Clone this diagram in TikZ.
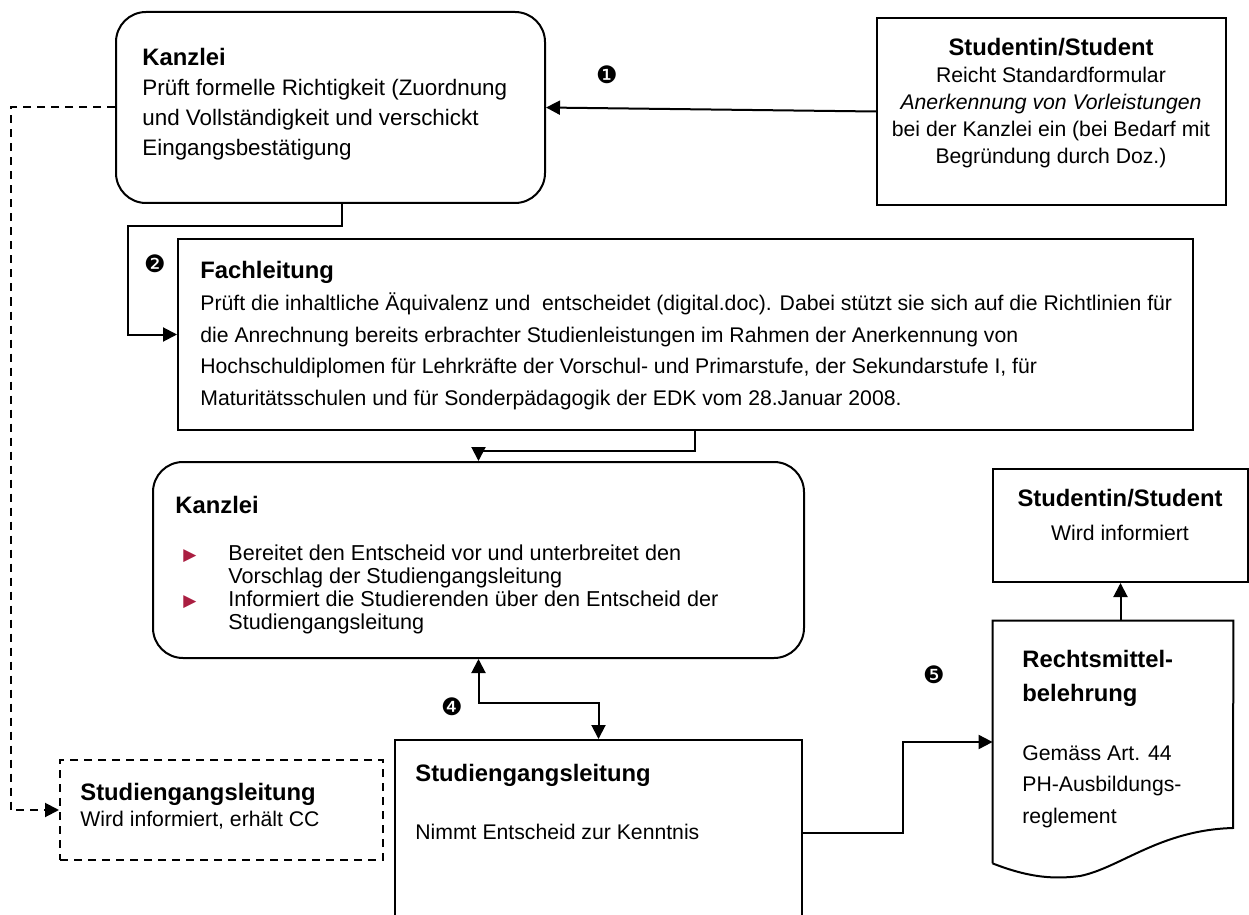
\documentclass[tikz,border=0pt]{standalone}
\usepackage{fontspec}
\setmainfont{Liberation Sans}
\newfontfamily\dejavu{DejaVu Sans}
\usetikzlibrary{fit,arrows.meta}
\definecolor{bulletred}{RGB}{170,30,65}

\newcommand{\titlefont}{\fontsize{11.9}{14}\selectfont\bfseries}
\newcommand{\bodyfont}{\fontsize{10.6}{13.75}\selectfont}
\newcommand{\numero}[1]{{\dejavu\fontsize{12}{12}\selectfont #1}}
\newcommand{\bul}{\makebox[22.5pt][l]{\textcolor{bulletred}{\dejavu\fontsize{8.5}{8}\selectfont ▶}}}

\begin{document}
\begin{tikzpicture}[x=0.5pt,y=-0.5pt,
  box/.style={draw,line width=1pt,inner sep=0pt},
  rbox/.style={box,rounded corners=15pt},
  dbox/.style={box,dash pattern=on 4pt off 3pt},
  txt/.style={anchor=north west,align=left,inner sep=0pt,font=\bodyfont},
  ctxt/.style={anchor=north,align=center,inner sep=0pt,font=\bodyfont},
  tip/.tip={Triangle[length=7pt,width=7pt]},
  conn/.style={line width=1pt,-tip}]
  \path[use as bounding box] (0,0) rectangle (1249,915);

  \node[rbox,fit={(116,12) (545,203)}] (kanzlei1) {};
  \node[txt,font=\fontsize{11.2}{15}\selectfont] (kanzlei1text) at (142,48) {{\titlefont Kanzlei}\\Prüft formelle Richtigkeit (Zuordnung\\und Vollständigkeit und verschickt\\Eingangsbestätigung};

  \node[box,fit={(877,18) (1226,205)}] (student1) {};
  \node[ctxt,font=\fontsize{10.6}{13.5}\selectfont] (student1text) at (1051,38) {{\titlefont Studentin/Student}\\Reicht Standardformular\\\textit{Anerkennung von Vorleistungen}\\bei der Kanzlei ein (bei Bedarf mit\\Begründung durch Doz.)};

  \node[box,fit={(178,239) (1193,430)}] (fach) {};
  \node[txt,font=\fontsize{10.6}{15.85}\selectfont] (fachtext) at (200,261) {{\titlefont Fachleitung}\\Prüft die inhaltliche Äquivalenz und~ entscheidet (digital.doc). Dabei stützt sie sich auf die Richtlinien für\\die Anrechnung bereits erbrachter Studienleistungen im Rahmen der Anerkennung von\\Hochschuldiplomen für Lehrkräfte der Vorschul- und Primarstufe, der Sekundarstufe I, für\\Maturitätsschulen und für Sonderpädagogik der EDK vom 28.Januar 2008.};

  \node[rbox,fit={(153,462) (804,658)}] (kanzlei2) {};
  \node[txt,font=\titlefont] (kanzlei2title) at (175,496) {Kanzlei};
  \node[txt,font=\fontsize{10.8}{11.5}\selectfont] (kanzlei2list) at (183,544) {\bul Bereitet den Entscheid vor und unterbreitet den\\\hspace*{22.5pt}Vorschlag der Studiengangsleitung\\\bul Informiert die Studierenden über den Entscheid der\\\hspace*{22.5pt}Studiengangsleitung};

  \node[dbox,fit={(60,760) (383,860)}] (sglcc) {};
  \node[txt,font=\fontsize{10.6}{13}\selectfont] (sglcctext) at (80,783) {{\titlefont Studiengangsleitung}\\Wird informiert, erhält CC};

  \node[box,fit={(395,740) (802,926)}] (sgl) {};
  \node[txt,font=\titlefont] (sgltitle) at (415,764) {Studiengangsleitung};
  \node[txt] (sgltext) at (415,824) {Nimmt Entscheid zur Kenntnis};

  \node[box,fit={(993,469) (1248,582)}] (student2) {};
  \node[ctxt,font=\fontsize{10.6}{17}\selectfont] (student2text) at (1120,489) {{\titlefont Studentin/Student}\\Wird informiert};

  \node[inner sep=0pt,fit={(993,621) (1233,863)}] (recht) {};
  \draw[line width=1pt] (recht.south west) -- (recht.north west) -- (recht.north east) -- (1233,828)
    .. controls (1160,830) and (1120,868) .. (1080,876) .. controls (1050,880) and (1025,876) .. (recht.south west);
  \node[txt,font=\fontsize{11.9}{17}\selectfont\bfseries] (rechttitle) at (1022,650) {Rechtsmittel-\\belehrung};
  \node[txt,font=\fontsize{10.6}{15.75}\selectfont] (rechttext) at (1022,745) {Gemäss Art. 44\\PH-Ausbildungs-\\reglement};

  \node (n1) at (607,75) {\numero{❶}};
  \node (n2) at (155,264) {\numero{❷}};
  \node (n4) at (452,707) {\numero{❹}};
  \node (n5) at (934,675) {\numero{❺}};

  \coordinate (bend1) at (128,226);
  \draw[conn] (student1.west) -- (kanzlei1.east);
  \draw[conn,dash pattern=on 4pt off 3pt] (kanzlei1.west) -- ++(-104,0) |- (sglcc.west);
  \draw[conn] ([xshift=5.75pt]kanzlei1.south) |- (bend1) |- (fach.west);
  \draw[conn] ([xshift=4.75pt]fach.south) -- ++(0,20) -| (kanzlei2.north);
  \draw[conn,tip-tip] (kanzlei2.south) -- ++(0,44) -| (sgl.north);
  \draw[conn] (sgl.east) -- ++(100,0) |- (recht.west);
  \draw[conn] (recht.north -| student2.south) -- (student2.south);
\end{tikzpicture}
\end{document}
